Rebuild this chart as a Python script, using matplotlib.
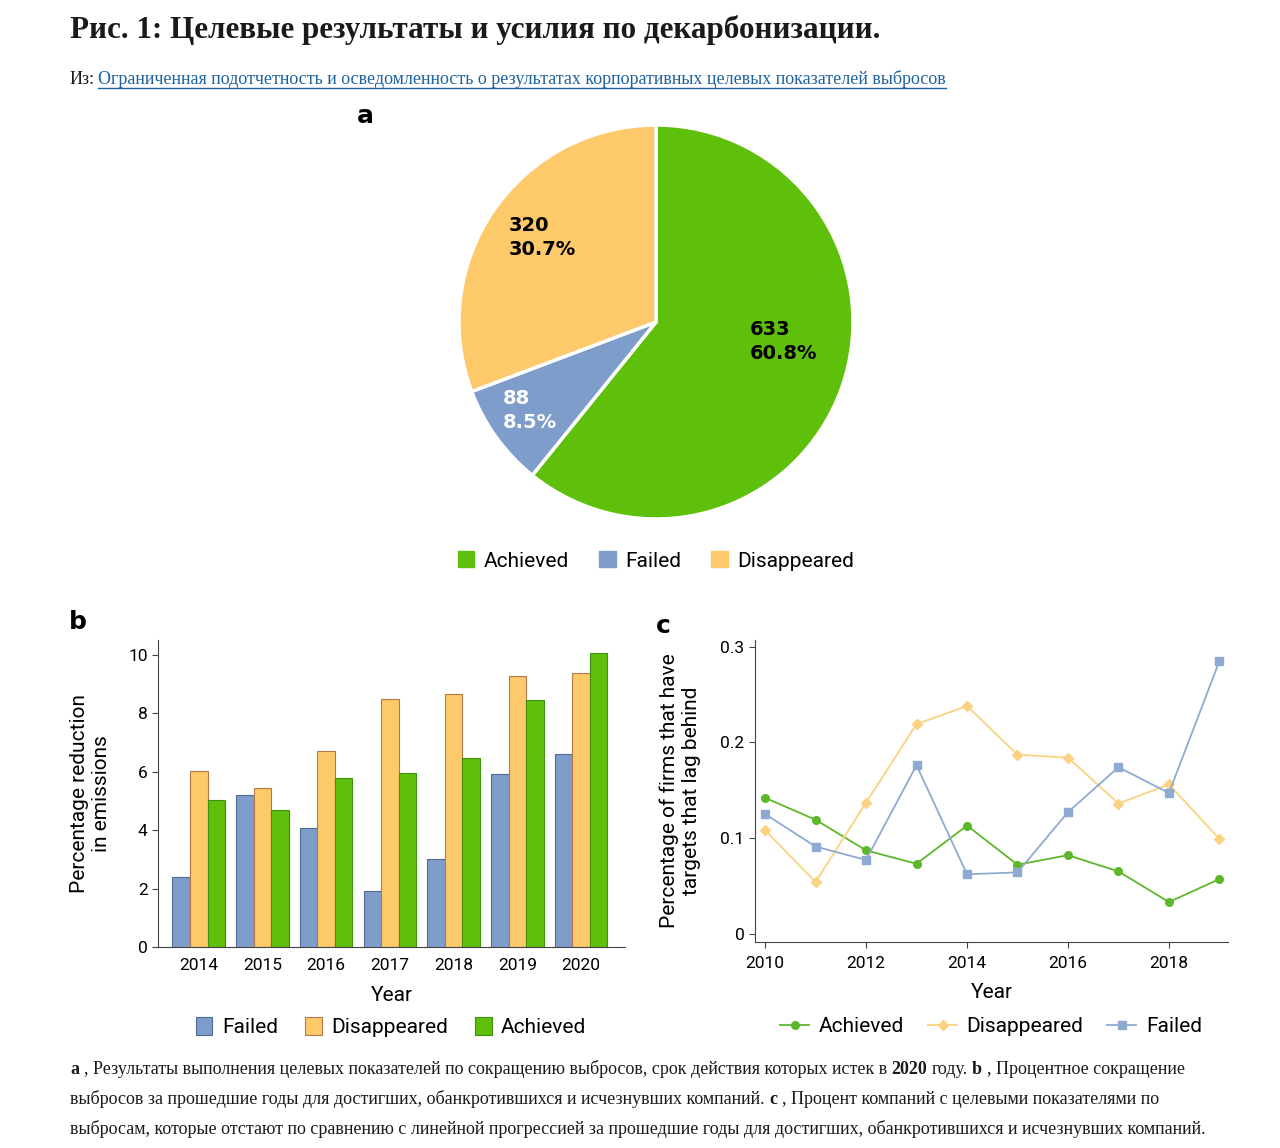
import matplotlib
matplotlib.use("Agg")
import matplotlib.pyplot as plt
import numpy as np
from matplotlib.lines import Line2D
from matplotlib.patches import Patch

W, H = 1280, 1148

# panel a
pie_labels = ["Achieved", "Failed", "Disappeared"]
pie_counts = [633, 88, 320]
pie_pcts = ["60.8%", "8.5%", "30.7%"]

# panel b
bar_years = ["2014", "2015", "2016", "2017", "2018", "2019", "2020"]
bar_failed = [2.38, 5.19, 4.07, 1.93, 3.02, 5.90, 6.61]
bar_disappeared = [6.03, 5.45, 6.70, 8.49, 8.66, 9.28, 9.38]
bar_achieved = [5.02, 4.70, 5.78, 5.95, 6.46, 8.46, 10.07]

# panel c
line_years = [2010, 2011, 2012, 2013, 2014, 2015, 2016, 2017, 2018, 2019]
line_achieved = [0.142, 0.119, 0.087, 0.073, 0.113, 0.072, 0.082, 0.065, 0.033, 0.057]
line_disappeared = [0.108, 0.054, 0.137, 0.219, 0.238, 0.187, 0.184, 0.136, 0.156, 0.099]
line_failed = [0.125, 0.091, 0.077, 0.176, 0.062, 0.064, 0.127, 0.174, 0.147, 0.285]

title = "Рис. 1: Целевые результаты и усилия по декарбонизации."
source_prefix = "Из:"
source_link = "Ограниченная подотчетность и осведомленность о результатах корпоративных целевых показателей выбросов"

GREEN = "#5fc00b"
BLUE = "#7f9dcb"
YELLOW = "#fec96b"
LGREEN = "#5cb82a"
LYELLOW = "#fbd281"
LBLUE = "#8eaad3"

SANS = ["Roboto", "DejaVu Sans"]
SERIF = ["Liberation Serif", "DejaVu Serif"]
plt.rcParams["font.family"] = SANS

fig = plt.figure(figsize=(W / 100, H / 100), dpi=100)
fig.patch.set_facecolor("white")


def fx(px):
    return px / W


def fy(py):
    return 1 - py / H


# ---- header
fig.text(fx(70), fy(30), title, family=SERIF, fontsize=22.4, fontweight="bold",
         va="center", ha="left", color="#1a1a1a")
renderer = fig.canvas.get_renderer()
t0 = fig.text(fx(70), fy(79), source_prefix, family=SERIF, fontsize=13.0,
              va="center", ha="left", color="#1a1a1a")
x_link = 70 + t0.get_window_extent(renderer).width + 3
t1 = fig.text(fx(x_link), fy(79), source_link, family=SERIF, fontsize=13.0,
              va="center", ha="left", color="#1f62a0")
bb = t1.get_window_extent(renderer)
fig.add_artist(Line2D([bb.x0 / W, bb.x1 / W], [fy(88), fy(88)], color="#1f62a0", lw=1))

# ---- panel a: pie
R = 197
ax_a = fig.add_axes([fx(656 - R * 1.05), fy(322 + R * 1.05), 2 * R * 1.05 / W, 2 * R * 1.05 / H])
ax_a.pie(pie_counts, colors=[GREEN, BLUE, YELLOW], startangle=90, counterclock=False,
         wedgeprops=dict(edgecolor="white", linewidth=2.5))
ax_a.set_xlim(-1.05, 1.05)
ax_a.set_ylim(-1.05, 1.05)
ax_a.set_aspect("equal")
lab_pos = [(0.477, -0.10, "black"), (-0.78, -0.45, "white"), (-0.75, 0.43, "black")]
for (x, y, c), n, p in zip(lab_pos, pie_counts, pie_pcts):
    ax_a.text(x, y, f"{n}\n{p}", ha="left", va="center", fontsize=14,
              fontweight="heavy", family=["DejaVu Sans"], color=c, linespacing=1.3)
fig.text(fx(357), fy(116), "a", fontsize=18, fontweight="heavy", family=["DejaVu Sans"],
         va="center")
fig.legend([Patch(color=c) for c in [GREEN, BLUE, YELLOW]], pie_labels,
           loc="center", bbox_to_anchor=(fx(656), fy(561)), ncol=3, frameon=False,
           fontsize=15, handlelength=0.8, handleheight=0.8, handletextpad=0.45,
           columnspacing=1.45)

# ---- panel b: bars
ax_b = fig.add_axes([fx(158), fy(947), (625 - 158) / W, (947 - 640) / H])
x = np.arange(len(bar_years))
bw = 0.275
bf = ax_b.bar(x - bw, bar_failed, bw, color=BLUE, edgecolor="#4f6a95", linewidth=0.8, label="Failed")
bd = ax_b.bar(x, bar_disappeared, bw, color=YELLOW, edgecolor="#b4794a", linewidth=0.8, label="Disappeared")
ba = ax_b.bar(x + bw, bar_achieved, bw, color=GREEN, edgecolor="#3f8f10", linewidth=0.8, label="Achieved")
ax_b.set_xlim(-0.64, 6.69)
ax_b.set_ylim(0, 10.5)
ax_b.set_xticks(x)
ax_b.set_xticklabels(bar_years)
ax_b.set_yticks([0, 2, 4, 6, 8, 10])
ax_b.tick_params(axis="x", length=0, labelsize=12.5, pad=8)
ax_b.tick_params(axis="y", length=4, labelsize=12.5, color="#444444")
for s in ["top", "right"]:
    ax_b.spines[s].set_visible(False)
for s in ["left", "bottom"]:
    ax_b.spines[s].set_color("#444444")
ax_b.set_xlabel("Year", fontsize=15, labelpad=9)
ax_b.set_ylabel("Percentage reduction\nin emissions", fontsize=15, labelpad=12)
fig.text(fx(69), fy(622), "b", fontsize=18, fontweight="heavy", family=["DejaVu Sans"], va="center")
fig.legend([bf, bd, ba], ["Failed", "Disappeared", "Achieved"], loc="center",
           bbox_to_anchor=(fx(391), fy(1027)), ncol=3, frameon=False, fontsize=15,
           handlelength=0.8, handleheight=1.0, handletextpad=0.45, columnspacing=1.3)

# ---- panel c: lines
ax_c = fig.add_axes([fx(755), fy(942), (1228 - 755) / W, (942 - 640) / H])
la, = ax_c.plot(line_years, line_achieved, color=LGREEN, marker="o", ms=5.5, lw=1.3)
ld, = ax_c.plot(line_years, line_disappeared, color=LYELLOW, marker="D", ms=5, lw=1.3)
lf, = ax_c.plot(line_years, line_failed, color=LBLUE, marker="s", ms=5.5, lw=1.3)
ax_c.set_xlim(2009.8, 2019.17)
ax_c.set_ylim(-0.0088, 0.307)
ax_c.set_xticks([2010, 2012, 2014, 2016, 2018])
ax_c.set_yticks([0, 0.1, 0.2, 0.3])
ax_c.set_yticklabels(["0", "0.1", "0.2", "0.3"])
ax_c.tick_params(labelsize=12.5, length=4, color="#444444")
ax_c.tick_params(axis="x", pad=6)
for s in ["top", "right"]:
    ax_c.spines[s].set_visible(False)
for s in ["left", "bottom"]:
    ax_c.spines[s].set_color("#444444")
ax_c.set_xlabel("Year", fontsize=15, labelpad=9)
ax_c.set_ylabel("Percentage of firms that have\ntargets that lag behind", fontsize=15, labelpad=14)
fig.text(fx(656), fy(626), "c", fontsize=18, fontweight="heavy", family=["DejaVu Sans"], va="center")
fig.legend([la, ld, lf], ["Achieved", "Disappeared", "Failed"], loc="center",
           bbox_to_anchor=(fx(991), fy(1027)), ncol=3, frameon=False, fontsize=15,
           handlelength=1.4, handletextpad=0.45, columnspacing=1.15)

# ---- caption
cap_lines = [
    [("a", "bold"), (", Результаты выполнения целевых показателей по сокращению выбросов, срок действия которых истек в", "normal"),
     ("2020", "bold"), ("году.", "normal"), ("b", "bold"), (", Процентное сокращение", "normal")],
    [("выбросов за прошедшие годы для достигших, обанкротившихся и исчезнувших компаний.", "normal"),
     ("c", "bold"), (", Процент компаний с целевыми показателями по", "normal")],
    [("выбросам, которые отстают по сравнению с линейной прогрессией за прошедшие годы для достигших, обанкротившихся и исчезнувших компаний.", "normal")],
]
cap_y = [1069, 1099, 1129]
cap_size = 12.95
probe = fig.text(0, 0, "a b", family=SERIF, fontsize=cap_size)
w_ab = probe.get_window_extent(renderer).width
probe.set_text("ab")
space_w = w_ab - probe.get_window_extent(renderer).width
probe.remove()
for parts, yy in zip(cap_lines, cap_y):
    xx = 70
    for s, wt in parts:
        t = fig.text(fx(xx), fy(yy), s, family=SERIF, fontsize=cap_size, fontweight=wt,
                     va="center", ha="left", color="#1a1a1a")
        xx += t.get_window_extent(renderer).width + space_w

fig.savefig("out.png", dpi=100, facecolor="white")
